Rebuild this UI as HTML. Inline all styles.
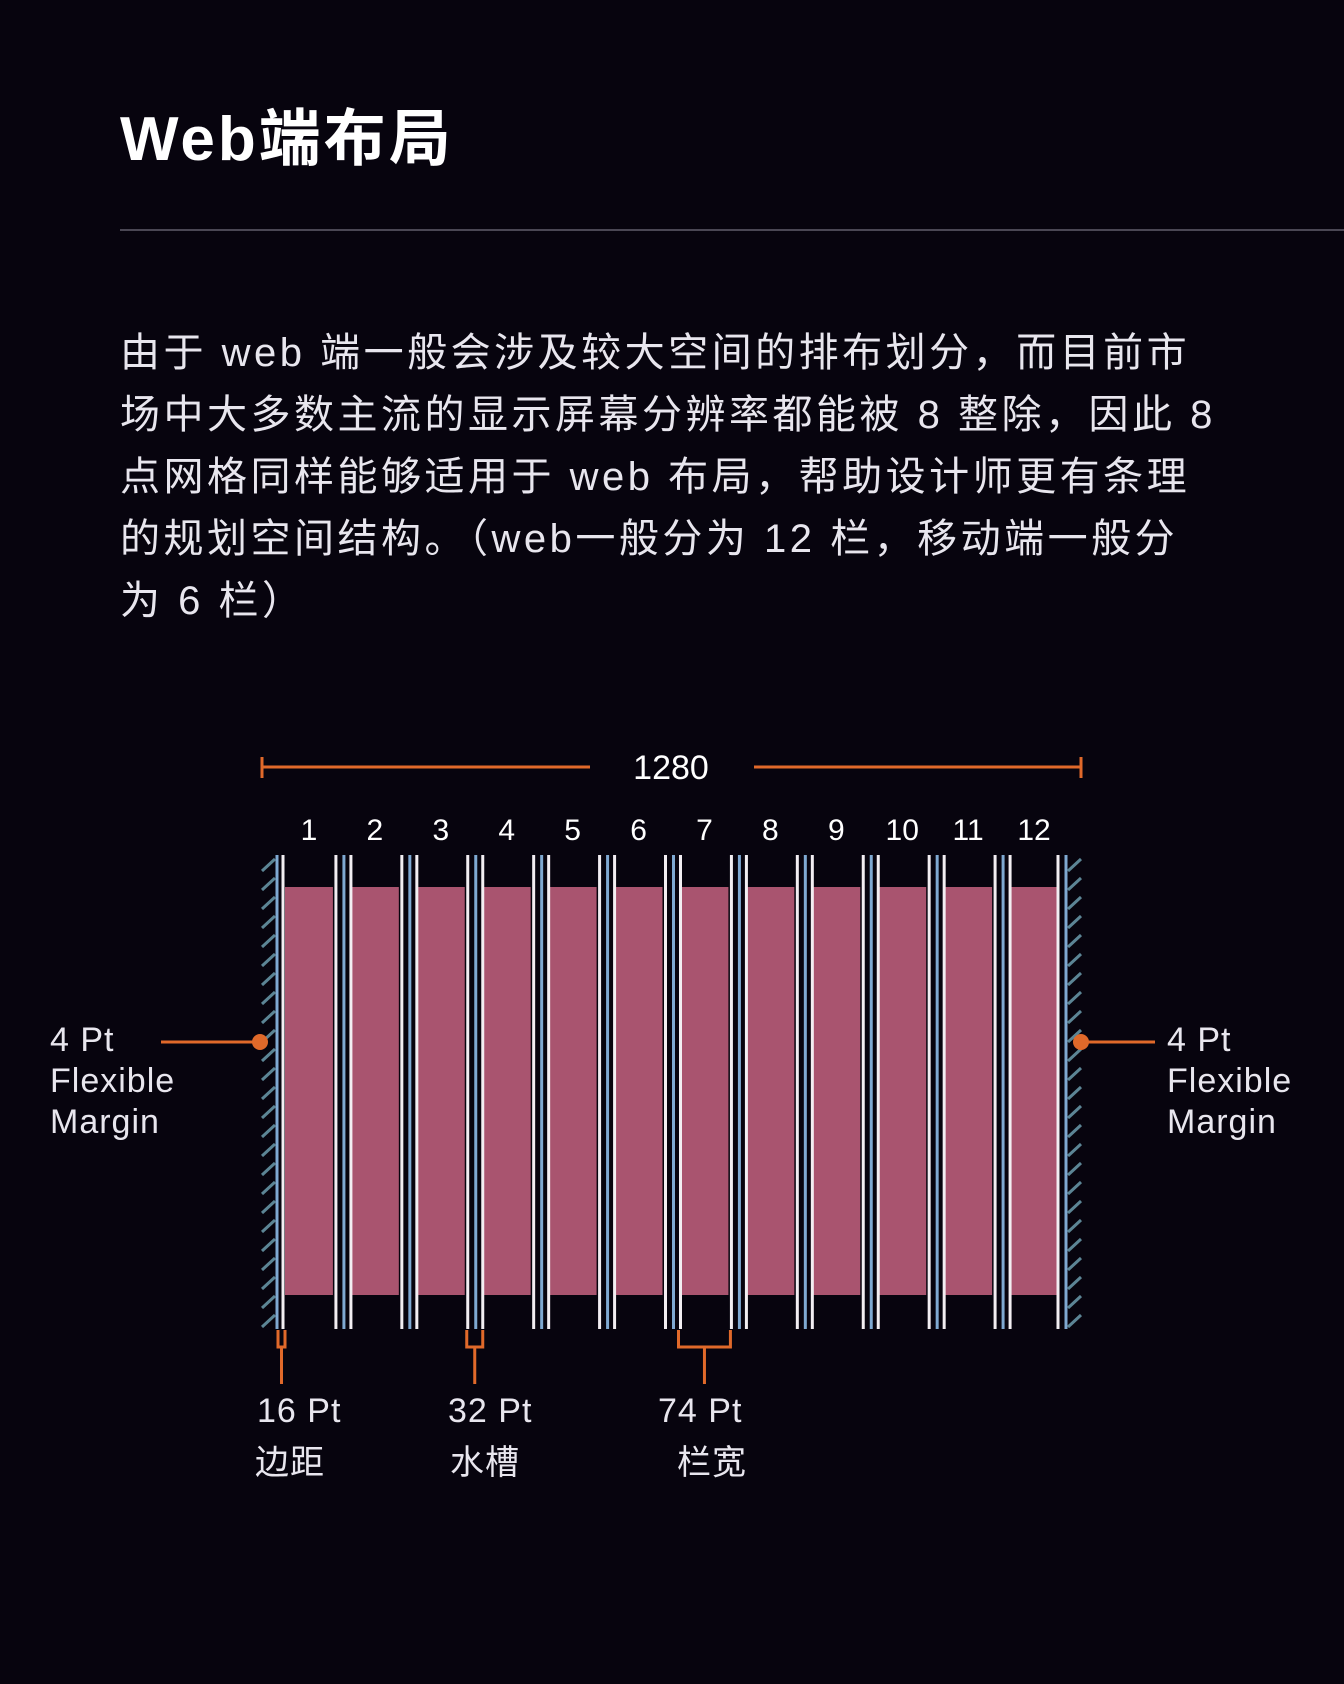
<!DOCTYPE html>
<html><head><meta charset="utf-8">
<style>
html,body{margin:0;padding:0;background:#07040e;}
body{width:1344px;height:1684px;position:relative;overflow:hidden;font-family:"Liberation Sans","Noto Sans CJK SC",sans-serif;color:#fff;}
.title{position:absolute;left:120px;top:104px;font-size:62px;font-weight:bold;line-height:72px;letter-spacing:3px;}
.rule{position:absolute;left:120px;top:229px;width:1224px;height:2px;background:#4a4754;}
.para{position:absolute;left:120px;top:322px;width:1200px;font-size:40px;line-height:62px;color:#e8e6ee;letter-spacing:3.5px;white-space:nowrap;}
svg{position:absolute;left:0;top:0;}
</style></head><body>
<div class="title">Web端布局</div>
<div class="rule"></div>
<div class="para">由于 web 端一般会涉及较大空间的排布划分，而目前市<br>场中大多数主流的显示屏幕分辨率都能被 8 整除，因此 8<br>点网格同样能够适用于 web 布局，帮助设计师更有条理<br>的规划空间结构。（web一般分为 12 栏，移动端一般分<br>为 6 栏）</div>
<svg id="chart" width="1344" height="1684"></svg>
<script>
const columnLabels = ["1","2","3","4","5","6","7","8","9","10","11","12"];
const totalWidthLabel = ["1280"];
const marginLabels = ["4 Pt","Flexible","Margin"];
const annotationValues = ["16 Pt","32 Pt","74 Pt"];
const annotationNames = ["边距","水槽","栏宽"];

(function(){
const NS="http://www.w3.org/2000/svg";
const svg=document.getElementById('chart');
function mk(t,a,name){const e=document.createElementNS(NS,t);for(const k in a)e.setAttribute(k,a[k]);


svg.appendChild(e);return e;}
const OR="#e0692a", BL="#7fa9d2", WH="#f2eef2", PK="#a9546f";
const n=columnLabels.length;
const leftEdge=283, rightEdge=1058, gw=16;
const colW=((rightEdge-leftEdge)-(n-1)*gw)/n;
const colX=i=>leftEdge+2+i*(colW+gw);
const yTop=855,yBot=1329,pTop=887,pBot=1295;
for(let i=0;i<n;i++){
  mk('rect',{x:colX(i),y:pTop,width:colW-2,height:pBot-pTop,fill:PK},'column-'+(i+1));
  const t=mk('text',{x:colX(i)+colW/2-1,y:840,fill:'#fff','font-size':30,'text-anchor':'middle'},'column-label-'+(i+1));
  t.textContent=columnLabels[i];
}
for(let i=1;i<n;i++){
  const g=colX(i)-gw;
  mk('line',{x1:g+1,y1:yTop,x2:g+1,y2:yBot,stroke:WH,'stroke-width':3},'gutter-line');
  mk('line',{x1:g+gw/2+1,y1:yTop,x2:g+gw/2+1,y2:yBot,stroke:BL,'stroke-width':3},'gutter-line');
  mk('line',{x1:g+gw,y1:yTop,x2:g+gw,y2:yBot,stroke:WH,'stroke-width':3},'gutter-line');
}
mk('line',{x1:leftEdge,y1:yTop,x2:leftEdge,y2:yBot,stroke:WH,'stroke-width':3},'left-margin-line');
mk('line',{x1:leftEdge-6,y1:yTop,x2:leftEdge-6,y2:yBot,stroke:BL,'stroke-width':3},'left-margin-line');
mk('line',{x1:rightEdge,y1:yTop,x2:rightEdge,y2:yBot,stroke:WH,'stroke-width':3},'right-margin-line');
mk('line',{x1:rightEdge+8,y1:yTop,x2:rightEdge+8,y2:yBot,stroke:BL,'stroke-width':3},'right-margin-line');
for(let y=yTop+4;y<yBot;y+=19){
  mk('line',{x1:262,y1:y+12,x2:275,y2:y,stroke:'#5c8595','stroke-width':3},'left-hatch');
  mk('line',{x1:1068,y1:y+12,x2:1081,y2:y,stroke:'#5c8595','stroke-width':3},'right-hatch');
}
mk('line',{x1:262,y1:767,x2:590,y2:767,stroke:OR,'stroke-width':3},'width-dimension');
mk('line',{x1:754,y1:767,x2:1081,y2:767,stroke:OR,'stroke-width':3},'width-dimension');
mk('line',{x1:262,y1:757,x2:262,y2:778,stroke:OR,'stroke-width':3},'width-tick');
mk('line',{x1:1081,y1:757,x2:1081,y2:778,stroke:OR,'stroke-width':3},'width-tick');
let t=mk('text',{x:671,y:779,fill:'#fff','font-size':34,'text-anchor':'middle'},'width-label');t.textContent=totalWidthLabel[0];
mk('line',{x1:161,y1:1042,x2:260,y2:1042,stroke:OR,'stroke-width':3},'left-margin-pointer');
mk('circle',{cx:260,cy:1042,r:8,fill:OR},'left-margin-dot');
mk('line',{x1:1081,y1:1042,x2:1155,y2:1042,stroke:OR,'stroke-width':3},'right-margin-pointer');
mk('circle',{cx:1081,cy:1042,r:8,fill:OR},'right-margin-dot');
marginLabels.forEach((s,i)=>{
  let a=mk('text',{x:50,y:1051+i*41,fill:'#e8e6ee','font-size':34,'letter-spacing':1},'left-margin-label');a.textContent=s;
  let b=mk('text',{x:1167,y:1051+i*41,fill:'#e8e6ee','font-size':34,'letter-spacing':1},'right-margin-label');b.textContent=s;
});
function bracket(x1,x2,name){
  const c=(x1+x2)/2;
  mk('path',{d:`M${x1} 1330 V1347 H${x2} V1330 M${c} 1347 V1384`,stroke:OR,'stroke-width':3,fill:'none'},name);
}
bracket(278,285,'margin-bracket');
const g3=colX(3)-gw;
bracket(g3,g3+gw,'gutter-bracket');
bracket(colX(6)-2,colX(6)+colW,'column-bracket');
const ax=[257,448,658], nx=[255,450,677];
annotationValues.forEach((s,i)=>{
  let a=mk('text',{x:ax[i],y:1422,fill:'#e8e6ee','font-size':34,'letter-spacing':1},'annotation-value');a.textContent=s;
  let b=mk('text',{x:nx[i],y:1474,fill:'#e8e6ee','font-size':34,'letter-spacing':1},'annotation-name');b.textContent=annotationNames[i];
});
})();
</script>
</body></html>
